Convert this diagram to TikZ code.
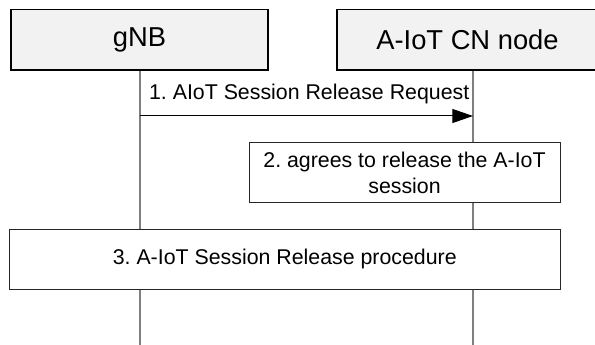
\documentclass[tikz,border=0pt]{standalone}
\usepackage{fontspec}
\setmainfont{Liberation Sans}
\usetikzlibrary{arrows.meta,positioning,calc}

\definecolor{headfill}{HTML}{F2F2F2}
\definecolor{lifegrey}{HTML}{7F7F7F}
\definecolor{framedark}{HTML}{262626}

\frenchspacing

\begin{document}
\begin{tikzpicture}[
  x=0.75pt,
  y=-0.75pt,
  line cap=butt,
  line join=miter,
  entity/.style={draw=black, line width=1pt, fill=headfill,
    inner sep=0pt, minimum height=45.4pt,
    font=\fontsize{20.5}{24}\selectfont},
  actionbox/.style={draw=framedark, line width=0.75pt, fill=white,
    inner sep=0pt, minimum height=45pt, align=center,
    font=\fontsize{16}{19.5}\selectfont},
  lifeline/.style={draw=lifegrey, line width=0.8pt},
  msg/.style={draw=black, line width=0.75pt,
    -{Triangle[length=15.5pt,width=10.5pt]}}
]

% Picture frame, in pixels of the reference
\useasboundingbox (0,0) rectangle (595,345);

% Lifelines run under every box
\coordinate (gnb top) at (140,70);
\coordinate (gnb end) at (140,345);
\coordinate (cn top) at (473,70);
\coordinate (cn end) at (473,345);

\draw[lifeline] (gnb top) -- (gnb end);
\draw[lifeline] (cn top) -- (cn end);

% Header boxes
\node[entity, minimum width=192.75pt] (gnb) at (139.5,39.75) {gNB};
\node[entity, minimum width=195.75pt] (cn) at (467.5,39.75) {A-IoT CN node};

% 1. Request from gNB to the CN node
\coordinate (req start) at (140,116);
\coordinate (req end) at (473,116);

\draw[msg] (req start) -- (req end)
  node[midway, anchor=base, yshift=12pt, xshift=2pt,
    font=\fontsize{16}{19.5}\selectfont] (req label)
  {1. AIoT Session Release Request};

% 2. Local step at the CN node
\node[actionbox, minimum width=233.25pt] (agree) at (404.5,172.7)
  {2. agrees to release the A-IoT\\session};

% 3. Procedure across both lifelines
\node[actionbox, minimum width=412.9pt] (release) at (284.75,259.3)
  {3. A-IoT Session Release procedure};

\end{tikzpicture}
\end{document}
